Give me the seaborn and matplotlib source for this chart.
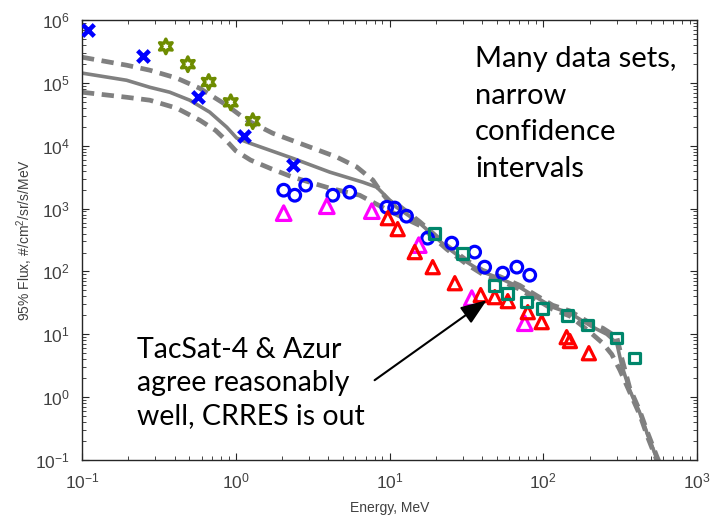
import numpy as np
import pandas as pd
import matplotlib
matplotlib.use("Agg")
import matplotlib.pyplot as plt
import seaborn as sns

# ---- data ----
x_marks_e = [0.109, 0.248, 0.566, 1.14, 2.35]
x_marks_f = [6.9e5, 2.66e5, 5.9e4, 1.42e4, 4.9e3]

star_e = [0.351, 0.488, 0.667, 0.928, 1.29]
star_f = [3.8e5, 1.98e5, 1.03e5, 4.9e4, 2.46e4]

circ_e = [2.05, 2.42, 2.85, 4.28, 5.51, 9.6, 10.8, 12.9, 17.7, 25.4, 35.8, 41.6, 54.5, 67.3, 81.7]
circ_f = [1960, 1630, 2360, 1630, 1820, 1050, 1020, 757, 338, 282, 203, 117, 94, 117, 87]

mag_e = [2.05, 3.91, 7.67, 15.5, 34.3, 75.8]
mag_f = [846, 1090, 910, 262, 37.6, 15.0]

red_e = [9.75, 11.3, 14.6, 19.1, 26.6, 39.2, 48.4, 58.8, 79.3, 97.7, 142, 149, 198]
red_f = [704, 471, 203, 117, 65, 42, 39, 33.7, 22.5, 15.6, 9.0, 7.8, 5.0]

sq_e = [19.7, 29.9, 48.4, 58.8, 78.1, 99.3, 144, 195, 301, 393]
sq_f = [406, 195, 60.5, 45.1, 32.5, 26.0, 20.1, 14.0, 8.7, 4.2]

mean_e = [0.1, 0.195, 0.276, 0.372, 0.502, 0.677, 0.874, 1.015, 1.23, 2.35, 4.09, 6.7, 8.26, 9.6,
          11.1, 15.7, 23.6, 31.8, 40.4, 52.1, 70.3, 115, 149, 210, 259, 301, 324, 365, 425, 478, 547, 590]
mean_f = [1.43e5, 1.10e5, 8.5e4, 7.1e4, 5.3e4, 3.42e4, 1.97e4, 1.32e4, 1.10e4, 6.3e3, 3.8e3, 2.63e3,
          2.19e3, 1.52e3, 1.05e3, 587, 243, 141, 97.5, 78, 56, 27, 21.7, 13, 10, 7.2, 3.2, 1.29,
          0.56, 0.25, 0.107, 0.069]

upper_e = [0.1, 0.195, 0.276, 0.413, 0.583, 0.874, 1.18, 1.74, 2.49, 4.54, 6.12, 7.8, 8.64, 9.75,
           11.7, 15.7, 23.6, 31.8, 40.4, 52.1, 70.3, 115, 149, 210, 244, 301, 324, 365, 425, 478, 547, 590]
upper_f = [2.56e5, 1.91e5, 1.59e5, 1.19e5, 8.2e4, 4.4e4, 2.55e4, 1.58e4, 1.14e4, 6.6e3, 4.6e3, 2.83e3,
           1.96e3, 1.36e3, 1.08e3, 620, 258, 150, 104, 83, 60, 29, 23.5, 14.2, 12.5, 9.0, 4.2, 1.4,
           0.6, 0.27, 0.115, 0.074]

lower_e = [0.1, 0.195, 0.276, 0.413, 0.583, 0.74, 0.87, 1.0, 1.25, 1.7, 2.35, 4.09, 6.4, 9.75,
           11.7, 15.7, 23.6, 31.8, 40.4, 52.1, 70.3, 115, 149, 200, 244, 279, 315, 365, 425, 478, 547, 590]
lower_f = [7.1e4, 5.9e4, 5.3e4, 3.96e4, 2.55e4, 1.75e4, 1.2e4, 8.3e3, 5.9e3, 4.3e3, 3.16e3, 2.11e3, 1.63e3,
           944, 757, 540, 225, 130, 90, 72, 52, 25, 19.5, 11, 7.2, 4.8, 2.7, 1.2, 0.52, 0.23, 0.1, 0.064]

x_ticks = [1e-1, 1e0, 1e1, 1e2, 1e3]
y_ticks = [1e-1, 1e0, 1e1, 1e2, 1e3, 1e4, 1e5, 1e6]

# ---- styling ----
sns.set_style("ticks")
plt.rcParams["font.family"] = ["Liberation Sans", "DejaVu Sans"]
plt.rcParams["mathtext.fontset"] = "custom"
plt.rcParams["mathtext.rm"] = "Liberation Sans"
plt.rcParams["mathtext.it"] = "Liberation Sans"

fig = plt.figure(figsize=(7.11, 5.19), dpi=100)
ax = fig.add_axes([82 / 711, 1 - 460 / 519, 615 / 711, 440 / 519])
ax.set_xscale("log")
ax.set_yscale("log")

GRAY = "#808080"
sns.lineplot(x=mean_e, y=mean_f, ax=ax, color=GRAY, lw=2.6, sort=False, estimator=None, zorder=2)
l_up = sns.lineplot(x=upper_e, y=upper_f, ax=ax, color=GRAY, lw=3.4, sort=False, estimator=None, zorder=2).lines[-1]
l_up.set_dashes((2.6, 1.6))
l_lo = sns.lineplot(x=lower_e, y=lower_f, ax=ax, color=GRAY, lw=3.4, sort=False, estimator=None, zorder=2).lines[-1]
l_lo.set_dashes((2.6, 1.6))

sns.scatterplot(x=x_marks_e, y=x_marks_f, ax=ax, marker="x", color="#0000FF", s=70, linewidth=3.3, zorder=4)
sns.scatterplot(x=star_e, y=star_f, ax=ax, marker=(6, 1, 0), facecolor="none", edgecolor="#6E8C00",
                s=110, linewidth=2.4, zorder=4)
sns.scatterplot(x=circ_e, y=circ_f, ax=ax, marker="o", facecolor="none", edgecolor="#0000FF",
                s=70, linewidth=2.3, zorder=4)
sns.scatterplot(x=mag_e, y=mag_f, ax=ax, marker="^", facecolor="none", edgecolor="#FF00FF",
                s=110, linewidth=2.3, zorder=4)
sns.scatterplot(x=red_e, y=red_f, ax=ax, marker="^", facecolor="none", edgecolor="#FF0000",
                s=90, linewidth=2.3, zorder=4)
sns.scatterplot(x=sq_e, y=sq_f, ax=ax, marker="s", facecolor="none", edgecolor="#00866B",
                s=60, linewidth=2.3, zorder=4)

ax.set_xlim(1e-1, 1e3)
ax.set_ylim(1e-1, 1e6)
ax.set_xticks(x_ticks)
ax.set_yticks(y_ticks)
TICKC = "#404040"
ax.tick_params(which="both", direction="in", top=True, right=True, colors="#262626",
               labelcolor=TICKC, labelsize=12.5)
ax.tick_params(which="major", length=5, width=0.8)
ax.tick_params(which="minor", length=3, width=0.6)
ax.tick_params(axis="y", pad=9)
ax.tick_params(axis="x", pad=8)
for sp in ax.spines.values():
    sp.set_visible(True)
    sp.set_color("#262626")
    sp.set_linewidth(1.0)

ax.set_xlabel("Energy, MeV", fontsize=10, color=TICKC, labelpad=7)
ax.set_ylabel("95% Flux, #/cm$^2$/sr/s/MeV", fontsize=10, color=TICKC, labelpad=0)

TXT = ["Lato", "DejaVu Sans"]
ax.text(0.639, 0.94, "Many data sets,\nnarrow\nconfidence\nintervals", transform=ax.transAxes,
        fontsize=21, family=TXT, va="top", ha="left", linespacing=1.5, color="black")
ax.text(0.09, 0.28, "TacSat-4 & Azur\nagree reasonably\nwell, CRRES is out", transform=ax.transAxes,
        fontsize=20.5, family=TXT, va="top", ha="left", linespacing=1.35, color="black")

ax.annotate("", xy=(42.9, 34.9), xytext=(8.0, 1.86),
            arrowprops=dict(arrowstyle="-|>,head_length=1.6,head_width=0.6", color="black", lw=1.5,
                            shrinkA=0, shrinkB=0), zorder=5)

fig.savefig("out.png", dpi=100)
